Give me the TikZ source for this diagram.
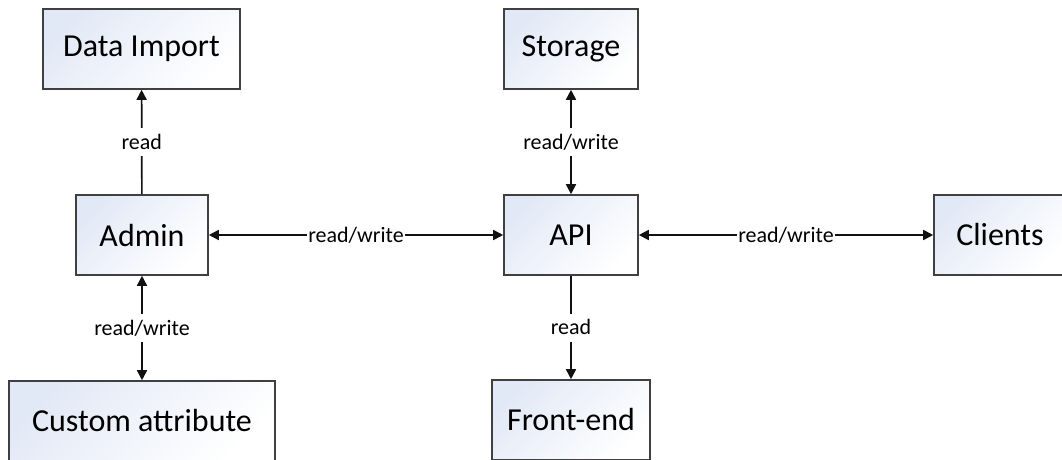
\documentclass[tikz,border=0pt]{standalone}
\usepackage{fontspec}
\setmainfont{Carlito}
\usetikzlibrary{arrows.meta}
\definecolor{boxedge}{HTML}{404040}
\definecolor{boxtint}{HTML}{E2E9F6}
\definecolor{wire}{HTML}{111111}
\tikzset{
  box/.style={draw=boxedge, line width=1.6pt, top color=boxtint, bottom color=white, shading angle=45,
    font=\fontsize{32}{36}\selectfont, text=black, inner sep=0pt, minimum height=80pt},
  conn/.style={draw=wire, line width=1.7pt, arrows={-Triangle[length=10pt,width=10pt]}},
  bothconn/.style={draw=wire, line width=1.7pt, arrows={Triangle[length=10pt,width=10pt]-Triangle[length=10pt,width=10pt]}},
  lbl/.style={fill=white, font=\fontsize{22}{26}\selectfont, text=black, inner xsep=1pt, inner ysep=0pt, text height=21pt, text depth=7pt}
}
\begin{document}
\begin{tikzpicture}[x=1pt,y=-1pt]
\useasboundingbox (0,0) rectangle (1062,460);
\node[box, minimum width=197pt] (dataimport) at (141.5,49) {Data Import};
\node[box, minimum width=134pt] (storage) at (571,49) {Storage};
\node[box, minimum width=132pt] (admin) at (142,235) {Admin};
\node[box, minimum width=134pt] (api) at (571,235) {API};
\node[box, minimum width=132pt] (clients) at (1000,235) {Clients};
\node[box, minimum width=266pt] (custom) at (142,421) {Custom attribute};
\node[box, minimum width=158pt] (frontend) at (571,420) {Front-end};

\draw[conn] (admin) -- node[lbl] {read} (dataimport);
\draw[bothconn] (storage) -- node[lbl] {read/write} (api);
\draw[bothconn] (admin) -- node[lbl] {read/write} (api);
\draw[bothconn] (api) -- node[lbl] {read/write} (clients);
\draw[bothconn] (admin) -- node[lbl] {read/write} (custom);
\draw[conn] (api) -- node[lbl] {read} (frontend);
\end{tikzpicture}
\end{document}
